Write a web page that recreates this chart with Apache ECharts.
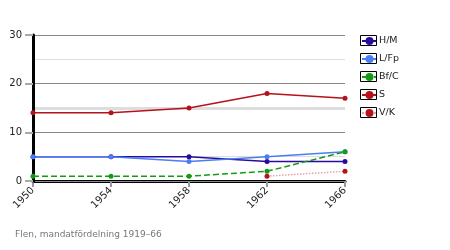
<!DOCTYPE html>
<html><head><meta charset="utf-8">
<script src="https://cdn.jsdelivr.net/npm/echarts@6/dist/echarts.min.js"></script>
<style>html,body{margin:0;padding:0;background:#fff}#c{width:450px;height:250px}</style>
</head><body><div id="c"></div>
<script>
var years = ['1950','1954','1958','1962','1966'];
var seriesNames = ['H/M','L/Fp','Bf/C','S','V/K'];
var hm  = [5,5,5,4,4];
var lfp = [5,5,4,5,6];
var bfc = [1,1,1,2,6];
var s   = [14,14,15,18,17];
var vk  = [null,null,null,1,2];

var chart = echarts.init(document.getElementById('c'));
var boxes = [];
for (var i = 0; i < seriesNames.length; i++) {
  boxes.push({type:'rect', shape:{x:360.5, y:35.5 + i*18, width:16, height:10}, style:{fill:'none', stroke:'#000', lineWidth:1}, z:10});
}
function line(name, data, color, lineColor, type) {
  return {name:name, type:'line', data:data, symbol:'circle', symbolSize:5, z:3,
    itemStyle:{color:color}, lineStyle:{color:lineColor, width:1.5, type:type},
    connectNulls:false, animation:false};
}
chart.setOption({
  animation:false,
  grid:{left:33, right:105, top:35, bottom:69},
  title:{text:'Flen, mandatfördelning 1919–66', left:15, top:230, padding:0,
    textStyle:{fontSize:9, fontWeight:'normal', color:'#777', fontFamily:'DejaVu Sans'}},
  legend:{orient:'vertical', left:361, top:36, padding:0, itemWidth:15, itemHeight:10, itemGap:8,
    data:seriesNames, textStyle:{fontSize:9.5, color:'#222', fontFamily:'DejaVu Sans', padding:[0,0,0,-3]}},
  graphic: boxes,
  xAxis:{type:'category', data:years, boundaryGap:false,
    axisLine:{lineStyle:{color:'#000', width:3}},
    axisTick:{show:true, length:6, lineStyle:{color:'#999', width:2}, alignWithLabel:true},
    axisLabel:{rotate:45, fontSize:10, color:'#222', fontFamily:'DejaVu Sans', margin:8},
    splitLine:{show:false}},
  yAxis:[{type:'value', min:0, max:30, interval:10, z:2,
    axisLine:{show:true, lineStyle:{color:'#000', width:3}},
    axisTick:{show:true, length:8, lineStyle:{color:'#aaa', width:2}},
    axisLabel:{fontSize:10, color:'#222', fontFamily:'DejaVu Sans', margin:11},
    splitLine:{show:true, lineStyle:{color:'#888', width:1}},
    minorTick:{show:false, splitNumber:2},
    minorSplitLine:{show:true, lineStyle:{color:'#ddd', width:1}}},
   {type:'value', min:0, max:30, interval:15, z:1, position:'left',
    axisLine:{show:false}, axisTick:{show:false}, axisLabel:{show:false},
    splitLine:{show:true, lineStyle:{color:['rgba(0,0,0,0)','#ddd','rgba(0,0,0,0)'], width:3}}}],
  series:[
    line('H/M', hm, '#2a0a9e', '#2a0a9e', 'solid'),
    line('L/Fp', lfp, '#4a7cf5', '#4a7cf5', 'solid'),
    line('Bf/C', bfc, '#139c13', '#139c13', 'dashed'),
    line('S', s, '#b5121b', '#b5121b', 'solid'),
    line('V/K', vk, '#b5121b', '#e8a0a6', 'dotted')
  ]
});
</script></body></html>
